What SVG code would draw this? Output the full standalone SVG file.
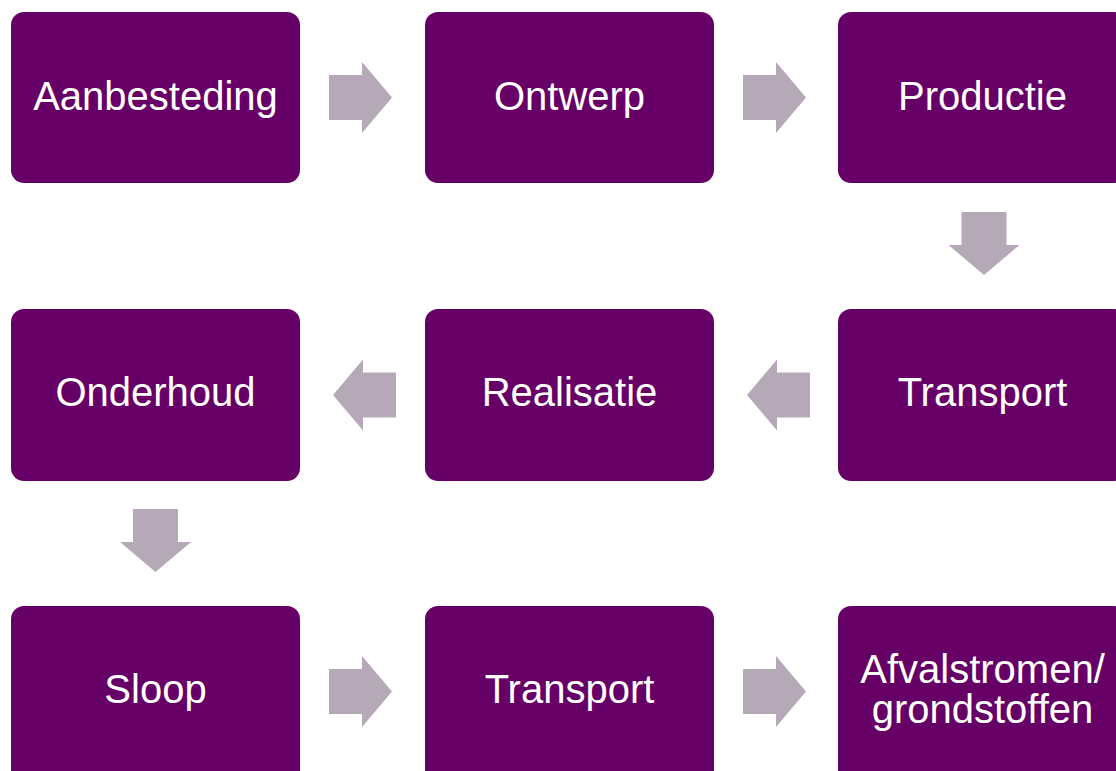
<svg xmlns="http://www.w3.org/2000/svg" width="1116" height="771" viewBox="0 0 1116 771">
<defs>
<style>
.box{fill:#660066;}
.lbl{fill:#ffffff;font-family:"Liberation Sans",Arial,sans-serif;font-size:40px;text-anchor:middle;}
.arr{fill:#b5a9b8;}
</style>
<path id="ar" d="M0,-22.5 H33 V-35.5 L63,0 L33,35.5 V22.5 H0 Z"/>
</defs>
<rect width="1116" height="771" fill="#ffffff"/>
<g id="connectors">
<use href="#ar" class="arr" transform="translate(329,97.5)"/>
<use href="#ar" class="arr" transform="translate(743,97.5)"/>
<use href="#ar" class="arr" transform="translate(984,212) rotate(90)"/>
<use href="#ar" class="arr" transform="translate(810,395) rotate(180)"/>
<use href="#ar" class="arr" transform="translate(396,395) rotate(180)"/>
<use href="#ar" class="arr" transform="translate(155.5,509) rotate(90)"/>
<use href="#ar" class="arr" transform="translate(329,691.5)"/>
<use href="#ar" class="arr" transform="translate(743,691.5)"/>
</g>
<g id="n1"><rect class="box" x="11" y="12" width="289" height="171" rx="13"/><text class="lbl" x="155.5" y="110">Aanbesteding</text></g>
<g id="n2"><rect class="box" x="425" y="12" width="289" height="171" rx="13"/><text class="lbl" x="569.5" y="110">Ontwerp</text></g>
<g id="n3"><rect class="box" x="838" y="12" width="289" height="171" rx="13"/><text class="lbl" x="982.5" y="110">Productie</text></g>
<g id="n4"><rect class="box" x="838" y="309" width="289" height="172" rx="13"/><text class="lbl" x="982.5" y="406">Transport</text></g>
<g id="n5"><rect class="box" x="425" y="309" width="289" height="172" rx="13"/><text class="lbl" x="569.5" y="406">Realisatie</text></g>
<g id="n6"><rect class="box" x="11" y="309" width="289" height="172" rx="13"/><text class="lbl" x="155.5" y="406">Onderhoud</text></g>
<g id="n7"><rect class="box" x="11" y="606" width="289" height="180" rx="13"/><text class="lbl" x="155.5" y="703">Sloop</text></g>
<g id="n8"><rect class="box" x="425" y="606" width="289" height="180" rx="13"/><text class="lbl" x="569.5" y="703">Transport</text></g>
<g id="n9"><rect class="box" x="838" y="606" width="289" height="180" rx="13"/><text class="lbl" x="982.5" y="683">Afvalstromen/</text><text class="lbl" x="982.5" y="723">grondstoffen</text></g>
</svg>
